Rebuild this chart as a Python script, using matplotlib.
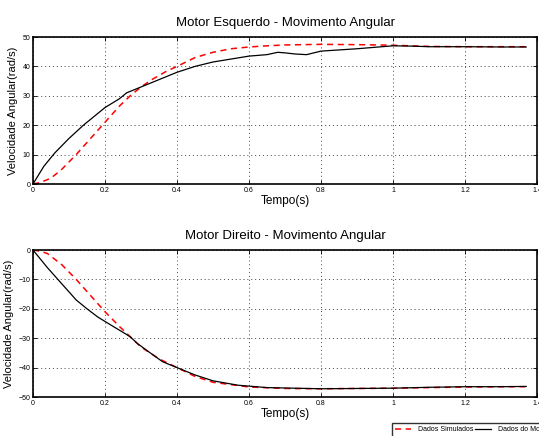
import numpy as np
import matplotlib
matplotlib.use('Agg')
import matplotlib.pyplot as plt

matplotlib.rcParams['font.family'] = ['Liberation Sans Narrow', 'Liberation Sans', 'DejaVu Sans']

# Motor esquerdo
t_sim_esq = [0, 0.02, 0.05, 0.08, 0.12, 0.16, 0.2, 0.24, 0.27, 0.3, 0.33, 0.37, 0.4, 0.45, 0.5,
             0.55, 0.6, 0.65, 0.7, 0.8, 0.9, 1.0, 1.05, 1.1, 1.2, 1.3, 1.37]
v_sim_esq = [0, 0.5, 2, 5, 10, 15.5, 21, 26.5, 30, 33, 35.5, 38.3, 40, 43, 44.8,
             46, 46.6, 47, 47.3, 47.5, 47.4, 47.2, 47.0, 46.8, 46.7, 46.7, 46.7]
t_mot_esq = [0, 0.015, 0.03, 0.06, 0.1, 0.14, 0.17, 0.2, 0.24, 0.26, 0.3, 0.34, 0.37, 0.4,
             0.45, 0.5, 0.55, 0.6, 0.65, 0.68, 0.7, 0.73, 0.76, 0.8, 0.9, 1.0, 1.05, 1.1,
             1.2, 1.3, 1.37]
v_mot_esq = [0, 3, 6, 10.5, 15.5, 20, 23, 26, 29, 31, 33, 35, 36.5, 38,
             40, 41.5, 42.5, 43.5, 44, 44.8, 44.6, 44.2, 44.0, 45.2, 46, 47, 46.9, 46.7,
             46.7, 46.6, 46.6]

# Motor direito
t_sim_dir = [0, 0.02, 0.04, 0.08, 0.12, 0.16, 0.2, 0.24, 0.27, 0.3, 0.35, 0.4, 0.45, 0.5,
             0.6, 0.7, 0.8, 0.9, 1.0, 1.1, 1.2, 1.3, 1.37]
v_sim_dir = [0, -0.4, -1.2, -5, -10, -15.5, -21, -26, -29.5, -33, -37, -40, -43, -45,
             -46.6, -47.1, -47.2, -47.1, -47.0, -46.8, -46.6, -46.5, -46.5]
t_mot_dir = [0, 0.04, 0.08, 0.12, 0.15, 0.18, 0.22, 0.25, 0.27, 0.29, 0.32, 0.36, 0.4,
             0.45, 0.5, 0.57, 0.65, 0.8, 0.9, 1.0, 1.1, 1.2, 1.3, 1.37]
v_mot_dir = [0, -6, -11.5, -17, -20, -22.8, -25.8, -28, -29.5, -31.8, -34.5, -38, -40,
             -42.5, -44.5, -46, -46.8, -47.2, -47.1, -47.0, -46.7, -46.5, -46.5, -46.4]

fig = plt.figure(figsize=(5.39, 4.36), dpi=100)
ax1 = fig.add_axes([33 / 539, 1 - 184 / 436, 504 / 539, 147 / 436])
ax2 = fig.add_axes([33 / 539, 1 - 397 / 436, 504 / 539, 147 / 436])


def style_axes(ax, title, ylim, yticks):
    ax.set_xlim(0, 1.4)
    ax.set_ylim(ylim)
    ax.set_xticks([0, 0.2, 0.4, 0.6, 0.8, 1, 1.2, 1.4])
    ax.set_xticklabels(['0', '0.2', '0.4', '0.6', '0.8', '1', '1.2', '1.4'])
    ax.set_yticks(yticks)
    ax.tick_params(labelsize=5, direction='in', length=3, width=0.6, pad=2,
                   top=True, right=True)
    ax.grid(True, linestyle=(0, (1, 3)), color='#444444', linewidth=0.7)
    for s in ax.spines.values():
        s.set_linewidth(1.2)
    ax.set_title(title, fontsize=9.5, pad=8)
    ax.set_xlabel('Tempo(s)', fontsize=8.5, labelpad=1)
    ax.set_ylabel('Velocidade Angular(rad/s)', fontsize=8, labelpad=3)


l1, = ax1.plot(t_sim_esq, v_sim_esq, color='red', linestyle='--', linewidth=1.1, dashes=(4, 3))
ax1.plot(t_mot_esq, v_mot_esq, color='black', linewidth=0.9)
style_axes(ax1, 'Motor Esquerdo - Movimento Angular', (0, 50), [0, 10, 20, 30, 40, 50])

l2, = ax2.plot(t_sim_dir, v_sim_dir, color='red', linestyle='--', linewidth=1.1, dashes=(4, 3),
               label='Dados Simulados')
l3, = ax2.plot(t_mot_dir, v_mot_dir, color='black', linewidth=0.9, label='Dados do Motor')
style_axes(ax2, 'Motor Direito - Movimento Angular', (-50, 0), [-50, -40, -30, -20, -10, 0])

leg = fig.legend(handles=[l2, l3], loc='upper left', bbox_to_anchor=(392 / 539, 1 - 423 / 436),
                 ncol=2, fontsize=5, frameon=True, fancybox=False, edgecolor='black',
                 borderpad=0.5, borderaxespad=0, handlelength=2.2, columnspacing=0.3,
                 handletextpad=1.0)
leg.get_frame().set_linewidth(1.0)

fig.savefig('out.png', dpi=100)
